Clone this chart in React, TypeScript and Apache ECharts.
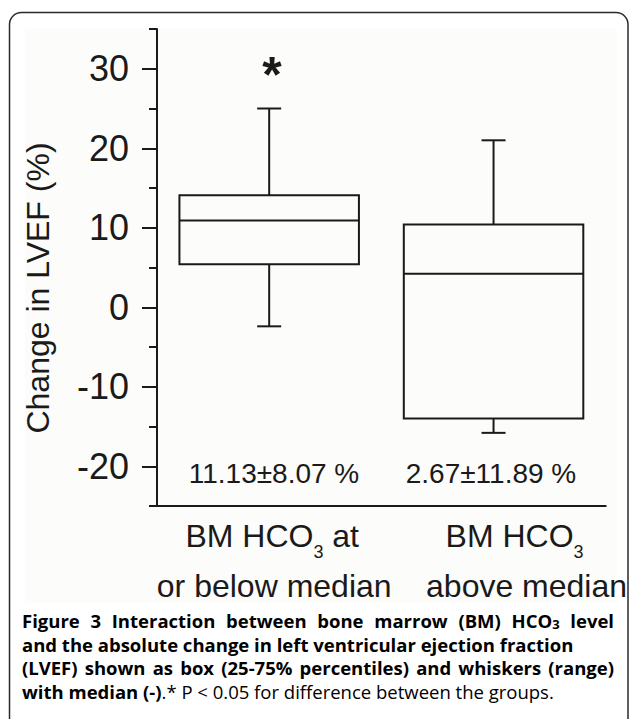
import React, { useEffect, useRef } from "react";
import * as echarts from "echarts";

// ---- data ----
const categories = ["BM HCO3 at or below median", "BM HCO3 above median"];
// box: [min, Q1, median, Q3, max]
const boxMin = [-2.4, -15.8];
const boxQ1 = [5.4, -14.0];
const boxMedian = [10.9, 4.2];
const boxQ3 = [14.1, 10.4];
const boxMax = [25.0, 21.0];
const meanSdLabels = ["11.13±8.07 %", "2.67±11.89 %"];
const significanceMarks = ["*", ""];
const yTitle = "Change in LVEF (%)";

const INK = "#1a1a1a";
const SANS = '"Liberation Sans", Arial, Helvetica, sans-serif';
const CAP = '"Open Sans", "Noto Sans", sans-serif';
const CAP_SIZE = 18.5;
const CAP_SUB = 13;

type Word = { text: string; width: number };

function makeMeasurer() {
  const cv = document.createElement("canvas");
  const ctx = cv.getContext("2d")!;
  return (t: string, size: number, weight: string) => {
    ctx.font = `${weight} ${size}px "Open Sans", "Noto Sans", sans-serif`;
    return ctx.measureText(t).width;
  };
}

export default function App() {
  const ref = useRef<HTMLDivElement>(null);

  useEffect(() => {
    if (!ref.current) return;
    const chart = echarts.init(ref.current, undefined, { renderer: "svg" });
    const measure = makeMeasurer();

    const boxData = categories.map((_, i) => [i, boxMin[i], boxQ1[i], boxMedian[i], boxQ3[i], boxMax[i]]);

    const gridLeft = 157;
    const gridTop = 29;
    const gridW = 453;
    const gridH = 477;
    const yMin = -25, yMax = 35;
    const pxPerUnit = gridH / (yMax - yMin);

    const labelRich = {
      m: { fontSize: 32, fontFamily: SANS, color: INK, lineHeight: 50 },
      s: { fontSize: 18, fontFamily: SANS, color: INK, lineHeight: 18, verticalAlign: "bottom" },
      m1: { fontSize: 32, fontFamily: SANS, color: INK, lineHeight: 50, padding: [0, 0, 0, 6] },
      m2: { fontSize: 32, fontFamily: SANS, color: INK, lineHeight: 50, padding: [0, 0, 0, 10] },
      m3: { fontSize: 32, fontFamily: SANS, color: INK, lineHeight: 50, padding: [0, 0, 0, 42] },
      m4: { fontSize: 32, fontFamily: SANS, color: INK, lineHeight: 50, padding: [0, 0, 0, 66] },
    };

    const capRich = {
      b: { fontSize: CAP_SIZE, fontFamily: CAP, fontWeight: "bold", color: "#231f20", lineHeight: 20 },
      bs: { fontSize: CAP_SUB, fontFamily: CAP, fontWeight: "bold", color: "#231f20", lineHeight: 13, verticalAlign: "bottom" },
      r: { fontSize: CAP_SIZE, fontFamily: CAP, fontWeight: "normal", color: "#2e2e2e", lineHeight: 20 },
    };

    const bw = (t: string): Word => ({ text: `{b|${t}}`, width: measure(t, CAP_SIZE, "bold") });

    // justified caption lines
    const line1: Word[] = [
      ...["Figure", "3", "Interaction", "between", "bone", "marrow", "(BM)"].map(bw),
      { text: "{b|HCO}{bs|3}", width: measure("HCO", CAP_SIZE, "bold") + measure("3", CAP_SUB, "bold") },
      bw("level"),
    ];
    const line3: Word[] = "(LVEF) shown as box (25-75% percentiles) and whiskers (range)".split(" ").map(bw);

    const capLeft = 22;
    const capRight = 614;
    const justify = (words: Word[], y: number) => {
      const total = words.reduce((a, w) => a + w.width, 0);
      const gap = (capRight - capLeft - total) / (words.length - 1);
      let x = capLeft;
      return words.map((w) => {
        const el = {
          type: "text",
          x,
          y,
          style: { text: w.text, rich: capRich, align: "left", verticalAlign: "middle" },
        };
        x += w.width + gap;
        return el;
      });
    };

    const option: any = {
      animation: false,
      backgroundColor: "#ffffff",
      grid: [
        { left: gridLeft, top: gridTop, width: gridW, height: gridH },
        { left: gridLeft, top: gridTop + 5 * pxPerUnit, width: gridW, height: 50 * pxPerUnit },
      ],
      xAxis: [
        {
          gridIndex: 0,
          type: "category",
          data: categories,
          axisLine: { show: true, onZero: false, lineStyle: { color: INK, width: 2 } },
          axisTick: { show: false },
          splitLine: { show: false },
          axisLabel: {
            interval: 0,
            margin: 5,
            formatter: (_v: string, idx: number) =>
              idx === 0
                ? "{m1|BM HCO}{s|3}{m| at}\n{m2|or below median}"
                : "{m3|BM HCO}{s|3}\n{m4|above median}",
            rich: labelRich,
          },
        },
        { gridIndex: 1, type: "value", show: false, min: 0, max: 1 },
      ],
      yAxis: [
        {
          gridIndex: 0,
          type: "value",
          min: yMin,
          max: yMax,
          interval: 5,
          axisLine: { show: true, onZero: false, lineStyle: { color: INK, width: 2 } },
          axisTick: { show: true, length: 8, lineStyle: { color: INK, width: 2 } },
          axisLabel: { show: false },
          splitLine: { show: false },
        },
        {
          gridIndex: 1,
          type: "value",
          min: -20,
          max: 30,
          interval: 10,
          axisLine: { show: false, onZero: false },
          axisTick: { show: true, length: 15, lineStyle: { color: INK, width: 2 } },
          axisLabel: { show: true, fontSize: 36, fontFamily: SANS, color: INK, margin: 28 },
          splitLine: { show: false },
        },
      ],
      series: [
        {
          type: "custom",
          xAxisIndex: 0,
          yAxisIndex: 0,
          data: boxData,
          encode: { x: 0, y: [1, 2, 3, 4, 5] },
          renderItem: (_params: any, api: any) => {
            const idx = api.value(0);
            const pMin = api.coord([idx, api.value(1)]);
            const pQ1 = api.coord([idx, api.value(2)]);
            const pMed = api.coord([idx, api.value(3)]);
            const pQ3 = api.coord([idx, api.value(4)]);
            const pMax = api.coord([idx, api.value(5)]);
            const band = api.size([1, 0])[0];
            const cx = pMed[0];
            const half = band * 0.4;
            const cap = 12;
            const st = { stroke: INK, lineWidth: 2, fill: null };
            return {
              type: "group",
              children: [
                { type: "line", shape: { x1: cx, y1: pMax[1], x2: cx, y2: pQ3[1] }, style: st },
                { type: "line", shape: { x1: cx - cap, y1: pMax[1], x2: cx + cap, y2: pMax[1] }, style: st },
                { type: "line", shape: { x1: cx, y1: pQ1[1], x2: cx, y2: pMin[1] }, style: st },
                { type: "line", shape: { x1: cx - cap, y1: pMin[1], x2: cx + cap, y2: pMin[1] }, style: st },
                {
                  type: "rect",
                  shape: { x: cx - half, y: pQ3[1], width: half * 2, height: pQ1[1] - pQ3[1] },
                  style: { stroke: INK, lineWidth: 2, fill: "rgba(0,0,0,0)" },
                },
                { type: "line", shape: { x1: cx - half, y1: pMed[1], x2: cx + half, y2: pMed[1] }, style: st },
              ],
            };
          },
        },
      ],
      graphic: [
        {
          type: "rect",
          z: -100,
          silent: true,
          shape: { x: 25, y: 28, width: 592, height: 575 },
          style: { fill: "#fcfcfa" },
        },
        {
          type: "rect",
          z: 100,
          silent: true,
          shape: { x: 9.5, y: 12.5, width: 618.5, height: 740, r: 12 },
          style: { fill: null, stroke: "#2a2a2a", lineWidth: 1.5 },
        },
        {
          type: "text",
          x: 38,
          y: 288,
          rotation: Math.PI / 2,
          style: { text: yTitle, fontSize: 32, fontFamily: SANS, fill: INK, align: "center", verticalAlign: "middle" },
        },
        {
          type: "text",
          x: 272,
          y: 75,
          style: { text: significanceMarks[0], fontSize: 50, fontWeight: "bold", fontFamily: SANS, fill: INK, align: "center", verticalAlign: "middle" },
        },
        {
          type: "text",
          x: 274,
          y: 473,
          style: { text: meanSdLabels[0], fontSize: 28, fontFamily: SANS, fill: INK, align: "center", verticalAlign: "middle" },
        },
        {
          type: "text",
          x: 491,
          y: 473,
          style: { text: meanSdLabels[1], fontSize: 28, fontFamily: SANS, fill: INK, align: "center", verticalAlign: "middle" },
        },
        ...justify(line1, 620),
        {
          type: "text",
          x: capLeft,
          y: 644,
          style: { text: "{b|and the absolute change in left ventricular ejection fraction}", rich: capRich, align: "left", verticalAlign: "middle" },
        },
        ...justify(line3, 667),
        {
          type: "text",
          x: capLeft,
          y: 691,
          style: { text: "{b|with median (-)}{r|.* P < 0.05 for difference between the groups.}", rich: capRich, align: "left", verticalAlign: "middle" },
        },
      ],
    };

    chart.setOption(option);
    return () => chart.dispose();
  }, []);

  return (
    <div
      ref={ref}
      style={{ position: "absolute", left: 0, top: 0, width: 629, height: 719, background: "#fff" }}
    />
  );
}
